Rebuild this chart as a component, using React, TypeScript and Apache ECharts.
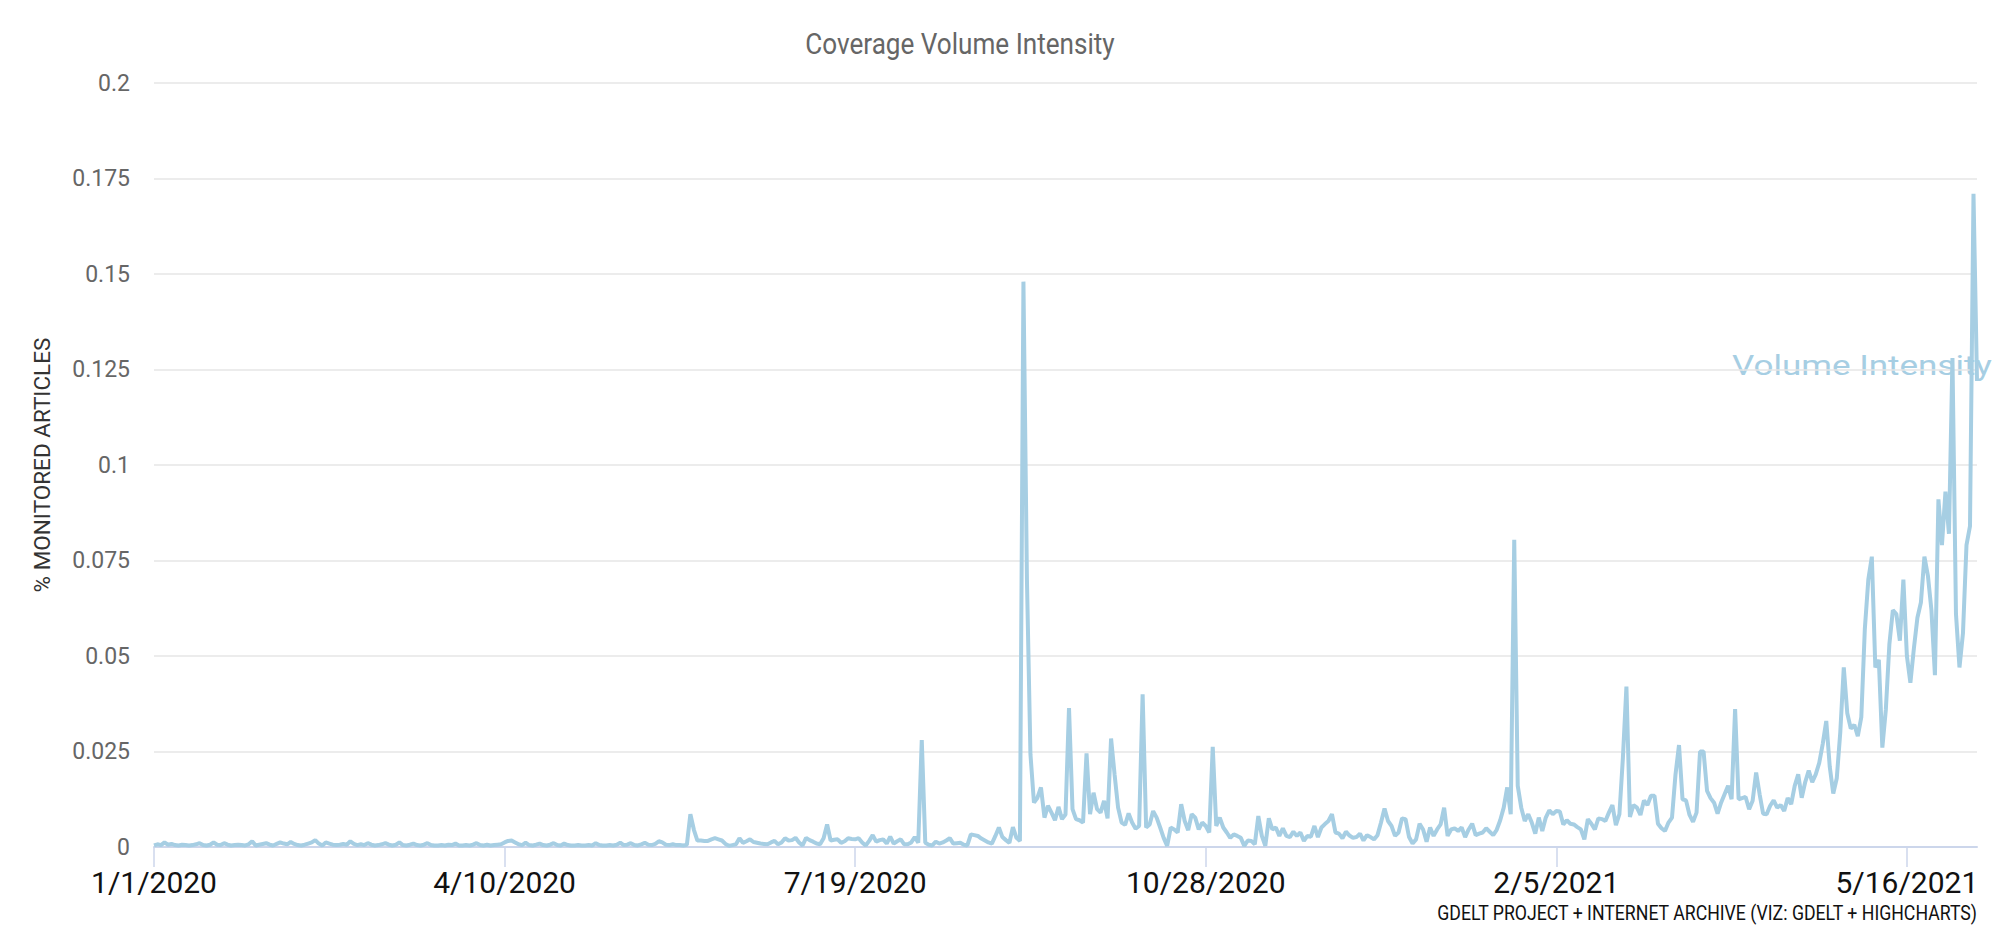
import React, { useEffect, useRef } from "react";
import * as echarts from "echarts";

// ---- DATA (daily % of monitored articles, 1/1/2020 .. 6/4/2021) ----
const START_YEAR = 2020;
const TITLE = "Coverage Volume Intensity";
const SERIES_NAME = "Volume Intensity";
const Y_AXIS_NAME = "% MONITORED ARTICLES";
const CREDIT = "GDELT PROJECT + INTERNET ARCHIVE (VIZ: GDELT + HIGHCHARTS)";
const Y_TICKS_MIN = 0;
const Y_TICKS_MAX = 0.2;
const Y_TICKS_STEP = 0.025;
const LABEL_EVERY_DAYS = 100;
const X_TICK_LABELS = ["1/1/2020", "4/10/2020", "7/19/2020", "10/28/2020", "2/5/2021", "5/16/2021"];

// Jan 1 – Jun 1, 2020
const janToMay2020 = [
  0.0004, 0.0007, 0.0005, 0.0012, 0.0006, 0.0008, 0.0005, 0.0004, 0.0006, 0.0005,
  0.0004, 0.0005, 0.0007, 0.0010, 0.0005, 0.0004, 0.0006, 0.0012, 0.0006, 0.0005,
  0.0010, 0.0006, 0.0004, 0.0005, 0.0006, 0.0005, 0.0004, 0.0007, 0.0015, 0.0004,
  0.0006, 0.0008, 0.0010, 0.0006, 0.0004, 0.0008, 0.0012, 0.0009, 0.0007, 0.0013,
  0.0008, 0.0005, 0.0004, 0.0006, 0.0009, 0.0012, 0.0018, 0.0009, 0.0004, 0.0012,
  0.0009, 0.0006, 0.0005, 0.0006, 0.0008, 0.0006, 0.0015, 0.0008, 0.0005, 0.0007,
  0.0005, 0.0010, 0.0006, 0.0004, 0.0005, 0.0007, 0.0010, 0.0006, 0.0004, 0.0006,
  0.0012, 0.0005, 0.0004, 0.0006, 0.0009, 0.0005, 0.0004, 0.0006, 0.0010, 0.0005,
  0.0004, 0.0004, 0.0005, 0.0004, 0.0006, 0.0005, 0.0009, 0.0004, 0.0004, 0.0005,
  0.0004, 0.0006, 0.0010, 0.0005, 0.0004, 0.0006, 0.0004, 0.0005, 0.0006, 0.0007,
  0.0012, 0.0016, 0.0017, 0.0012, 0.0007, 0.0005, 0.0011, 0.0005, 0.0004, 0.0006,
  0.0009, 0.0005, 0.0004, 0.0006, 0.0010, 0.0005, 0.0004, 0.0009, 0.0005, 0.0004,
  0.0004, 0.0005, 0.0004, 0.0004, 0.0005, 0.0004, 0.0010, 0.0005, 0.0004, 0.0004,
  0.0005, 0.0004, 0.0006, 0.0011, 0.0005, 0.0006, 0.0010, 0.0005, 0.0004, 0.0007,
  0.0011, 0.0006, 0.0005, 0.0008, 0.0015, 0.0012, 0.0006, 0.0005, 0.0007, 0.0005,
  0.0005, 0.0004, 0.0006,
];

// Jun 2 – Aug 29, 2020
const junToAug2020 = [
  0.0086, 0.0045, 0.0017, 0.0017, 0.0016, 0.0016, 0.0020, 0.0023, 0.0020, 0.0017,
  0.0008, 0.0003, 0.0005, 0.0007, 0.0023, 0.0011, 0.0015, 0.0020, 0.0013, 0.0011,
  0.0009, 0.0008, 0.0007, 0.0012, 0.0016, 0.0007, 0.0012, 0.0023, 0.0017, 0.0018,
  0.0024, 0.0012, 0.0004, 0.0024, 0.0018, 0.0014, 0.0009, 0.0007, 0.0023, 0.0059,
  0.0017, 0.0019, 0.0020, 0.0011, 0.0015, 0.0023, 0.0021, 0.0020, 0.0023, 0.0012,
  0.0004, 0.0016, 0.0031, 0.0014, 0.0018, 0.0020, 0.0009, 0.0027, 0.0009, 0.0015,
  0.0020, 0.0007, 0.0007, 0.0012, 0.0026, 0.0011, 0.0280, 0.0011, 0.0006, 0.0004,
  0.0014, 0.0009, 0.0012, 0.0017, 0.0023, 0.0009, 0.0010, 0.0011, 0.0006, 0.0004,
  0.0033, 0.0031, 0.0029, 0.0022, 0.0017, 0.0012, 0.0009, 0.0029, 0.0051,
];

// Aug 30 – Nov 23, 2020
const sepToNov2020 = [
  0.0026, 0.0018, 0.0011, 0.0052, 0.0024, 0.0016, 0.1480, 0.0700, 0.0243, 0.0116,
  0.0129, 0.0156, 0.0077, 0.0108, 0.0090, 0.0070, 0.0105, 0.0073, 0.0085, 0.0364,
  0.0099, 0.0073, 0.0070, 0.0064, 0.0245, 0.0086, 0.0142, 0.0099, 0.0090, 0.0121,
  0.0075, 0.0284, 0.0190, 0.0103, 0.0064, 0.0058, 0.0088, 0.0064, 0.0048, 0.0055,
  0.0400, 0.0051, 0.0059, 0.0094, 0.0077, 0.0051, 0.0024, 0.0003, 0.0051, 0.0046,
  0.0038, 0.0112, 0.0068, 0.0044, 0.0086, 0.0077, 0.0046, 0.0064, 0.0055, 0.0038,
  0.0262, 0.0055, 0.0077, 0.0051, 0.0038, 0.0024, 0.0033, 0.0029, 0.0024, 0.0003,
  0.0017, 0.0016, 0.0007, 0.0081, 0.0029, 0.0003, 0.0075, 0.0046, 0.0051, 0.0029,
  0.0049, 0.0029, 0.0026, 0.0040, 0.0029, 0.0038,
];

// Nov 24, 2020 – Feb 16, 2021
const decToFeb2021 = [
  0.0016, 0.0029, 0.0027, 0.0055, 0.0026, 0.0051, 0.0060, 0.0068, 0.0086, 0.0038,
  0.0035, 0.0023, 0.0040, 0.0030, 0.0024, 0.0026, 0.0035, 0.0017, 0.0031, 0.0026,
  0.0020, 0.0031, 0.0064, 0.0101, 0.0068, 0.0055, 0.0029, 0.0038, 0.0075, 0.0073,
  0.0026, 0.0009, 0.0020, 0.0061, 0.0046, 0.0014, 0.0051, 0.0029, 0.0046, 0.0059,
  0.0103, 0.0029, 0.0046, 0.0049, 0.0042, 0.0051, 0.0026, 0.0046, 0.0061, 0.0031,
  0.0035, 0.0038, 0.0049, 0.0040, 0.0031, 0.0045, 0.0070, 0.0103, 0.0156, 0.0086,
  0.0804, 0.0160, 0.0103, 0.0068, 0.0086, 0.0064, 0.0035, 0.0077, 0.0042, 0.0077,
  0.0096, 0.0086, 0.0094, 0.0093, 0.0059, 0.0070, 0.0061, 0.0059, 0.0052, 0.0046,
  0.0020, 0.0073, 0.0061, 0.0046, 0.0075,
];

// Feb 17 – Apr 15, 2021
const febToApr2021 = [
  0.0073, 0.0068, 0.0090, 0.0110, 0.0057, 0.0086, 0.0234, 0.0420, 0.0079, 0.0110,
  0.0103, 0.0084, 0.0122, 0.0110, 0.0134, 0.0134, 0.0061, 0.0049, 0.0042, 0.0064,
  0.0077, 0.0190, 0.0267, 0.0125, 0.0122, 0.0084, 0.0066, 0.0090, 0.0250, 0.0250,
  0.0147, 0.0128, 0.0116, 0.0087, 0.0116, 0.0138, 0.0160, 0.0125, 0.0361, 0.0125,
  0.0128, 0.0131, 0.0099, 0.0121, 0.0195, 0.0138, 0.0087, 0.0086, 0.0108, 0.0122,
  0.0103, 0.0110, 0.0094, 0.0128, 0.0112, 0.0160, 0.0190, 0.0129,
];

// Apr 16 – Jun 4, 2021
const aprToJun2021 = [
  0.017, 0.020, 0.017, 0.019, 0.022, 0.027, 0.033, 0.021, 0.014, 0.018,
  0.030, 0.047, 0.035, 0.031, 0.032, 0.029, 0.034, 0.057, 0.070, 0.076,
  0.047, 0.049, 0.026, 0.036, 0.053, 0.062, 0.061, 0.054, 0.070, 0.050,
  0.043, 0.052, 0.060, 0.064, 0.076, 0.071, 0.062, 0.045, 0.091, 0.079,
  0.093, 0.082, 0.128, 0.061, 0.047, 0.056, 0.079, 0.084, 0.171, 0.122,
];

const intensity = [
  ...janToMay2020,
  ...junToAug2020,
  ...sepToNov2020,
  ...decToFeb2021,
  ...febToApr2021,
  ...aprToJun2021,
];

const dates: string[] = intensity.map((_, i) => {
  const d = new Date(Date.UTC(START_YEAR, 0, 1 + i));
  return `${d.getUTCMonth() + 1}/${d.getUTCDate()}/${d.getUTCFullYear()}`;
});

const FONT = "Roboto, 'Noto Sans', sans-serif";
const LINE_COLOR = "#a6cee3";

export default function App() {
  const ref = useRef<HTMLDivElement>(null);
  useEffect(() => {
    const chart = echarts.init(ref.current!, null, { renderer: "svg" });
    chart.setOption({
      animation: false,
      backgroundColor: "#ffffff",
      grid: { left: 154, right: 23, top: 83, bottom: 83 },
      xAxis: {
        type: "category",
        data: dates,
        boundaryGap: false,
        axisLine: { lineStyle: { color: "#ccd6eb", width: 2 } },
        axisTick: {
          interval: LABEL_EVERY_DAYS - 1,
          length: 20,
          lineStyle: { color: "#ccd6eb", width: 1.5 },
        },
        axisLabel: {
          interval: LABEL_EVERY_DAYS - 1,
          color: "#111",
          fontSize: 30,
          fontFamily: FONT,
          margin: 20,
          formatter: (value: string, index: number) =>
            X_TICK_LABELS[Math.round(index / LABEL_EVERY_DAYS)] ?? value,
        },
        splitLine: { show: false },
      },
      yAxis: {
        type: "value",
        min: Y_TICKS_MIN,
        max: Y_TICKS_MAX,
        interval: Y_TICKS_STEP,
        name: Y_AXIS_NAME,
        nameLocation: "middle",
        nameGap: 101,
        nameRotate: 90,
        nameTextStyle: { color: "#333", fontSize: 22.5, fontFamily: FONT },
        axisLabel: {
          color: "#666",
          fontSize: 23,
          fontFamily: FONT,
          margin: 24,
          formatter: (v: number) => String(parseFloat(v.toFixed(3))),
        },
        splitLine: { lineStyle: { color: "#e6e6e6", width: 1.5 } },
        axisLine: { show: false },
        axisTick: { show: false },
      },
      graphic: [
        {
          type: "text",
          x: 960,
          y: 44,
          scaleX: 0.87,
          style: {
            text: TITLE,
            fill: "#666",
            fontSize: 30,
            fontFamily: FONT,
            textAlign: "center",
            textVerticalAlign: "middle",
          },
        },
        {
          type: "text",
          x: 1732,
          y: 366,
          z: 0,
          scaleX: 1.25,
          style: {
            text: SERIES_NAME,
            fill: LINE_COLOR,
            fontSize: 28,
            fontFamily: FONT,
            textAlign: "left",
            textVerticalAlign: "middle",
          },
        },
        {
          type: "text",
          x: 1977,
          y: 913,
          scaleX: 0.885,
          style: {
            text: CREDIT,
            fill: "#111",
            fontSize: 20,
            fontFamily: FONT,
            textAlign: "right",
            textVerticalAlign: "middle",
          },
        },
      ],
      series: [
        {
          name: SERIES_NAME,
          type: "line",
          data: intensity,
          showSymbol: false,
          symbol: "none",
          z: 3,
          lineStyle: { color: LINE_COLOR, width: 4 },
          itemStyle: { color: LINE_COLOR },
        },
      ],
    });
    return () => chart.dispose();
  }, []);
  return (
    <div
      ref={ref}
      style={{ position: "fixed", left: 0, top: 0, width: 2000, height: 930, background: "#fff" }}
    />
  );
}
